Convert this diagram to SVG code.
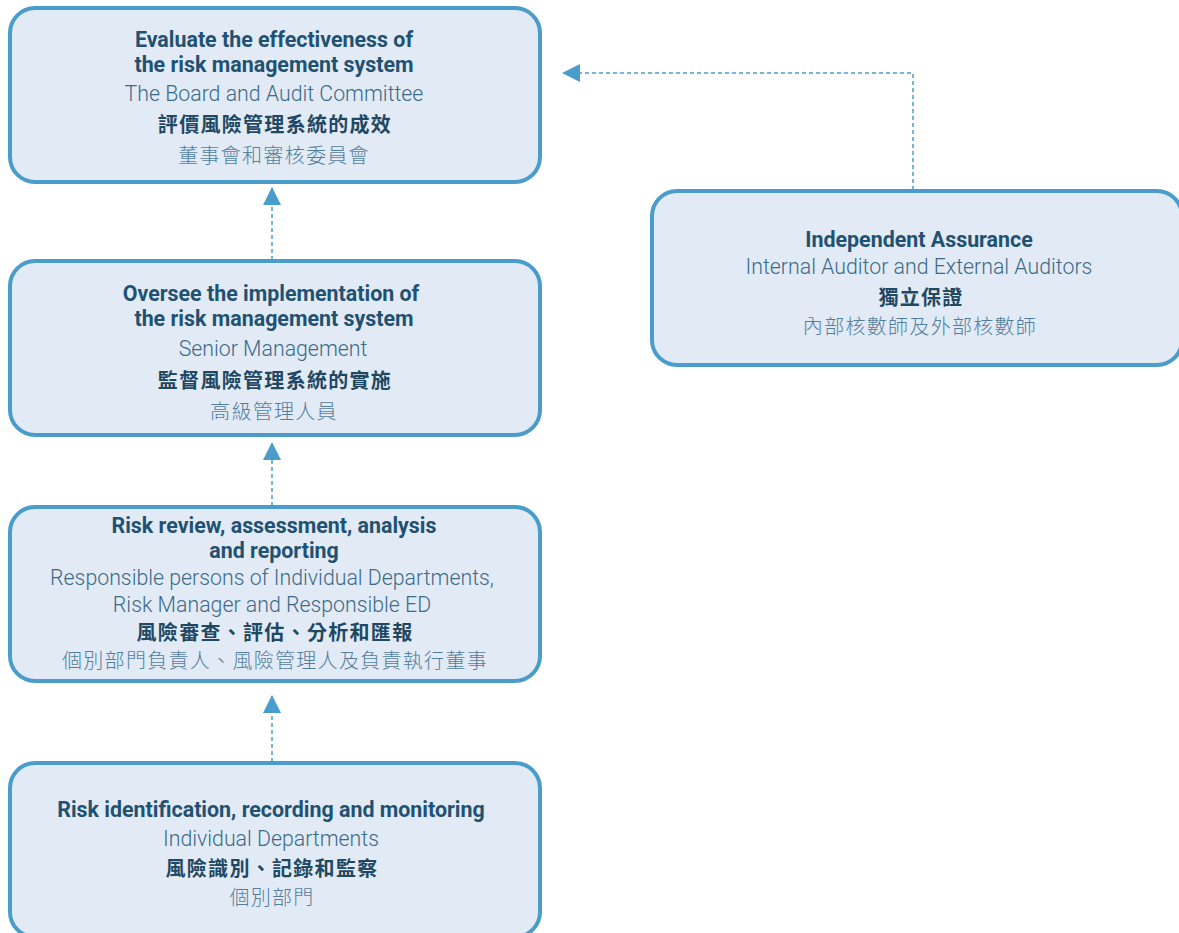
<svg xmlns="http://www.w3.org/2000/svg" width="1179" height="933" viewBox="0 0 1179 933">
<style>
.box{fill:#e2eaf5;stroke:#4a9ccb;stroke-width:4}
.t{font-family:Roboto,"Liberation Sans",sans-serif;font-size:21.4px;font-weight:700;fill:#1f5272;text-anchor:middle}
.s{font-family:Roboto,"Liberation Sans",sans-serif;font-size:21.3px;font-weight:300;fill:#3b6a8a;text-anchor:middle}
.ct{font-family:"Noto Sans CJK TC","Noto Sans CJK SC",sans-serif;font-size:20px;font-weight:700;fill:#1f4862;text-anchor:middle;letter-spacing:1.3px}
.cs{font-family:"Noto Sans CJK TC","Noto Sans CJK SC",sans-serif;font-size:20px;font-weight:300;fill:#527e9d;text-anchor:middle;letter-spacing:1.3px}
.con{fill:none;stroke:#4a9ccb;stroke-width:1.5;stroke-dasharray:4 3}
</style>
<defs>
<marker id="ah" markerUnits="userSpaceOnUse" markerWidth="18" markerHeight="18" refX="17" refY="9" orient="auto" viewBox="0 0 18 18">
<path d="M0,0 L18,9 L0,18 Z" fill="#4a9ccb"/>
</marker>
</defs>
<g id="connectors">
<path class="con" d="M272,260 V188" marker-end="url(#ah)"/>
<path class="con" d="M272,506 V443" marker-end="url(#ah)"/>
<path class="con" d="M272,762 V696" marker-end="url(#ah)"/>
<path class="con" d="M913,190 V73 H563" marker-end="url(#ah)"/>
</g>
<g id="node-evaluate">
<rect class="box" x="10" y="8" width="530" height="174" rx="25"/>
<text class="t" x="274" y="47">Evaluate the effectiveness of</text>
<text class="t" x="274" y="72">the risk management system</text>
<text class="s" x="274" y="101">The Board and Audit Committee</text>
<text class="ct" x="275" y="132">評價風險管理系統的成效</text>
<text class="cs" x="274" y="163">董事會和審核委員會</text>
</g>
<g id="node-oversee">
<rect class="box" x="10" y="261" width="530" height="174" rx="25"/>
<text class="t" x="271" y="301">Oversee the implementation of</text>
<text class="t" x="274" y="326">the risk management system</text>
<text class="s" x="273" y="356">Senior Management</text>
<text class="ct" x="275" y="388">監督風險管理系統的實施</text>
<text class="cs" x="274" y="419">高級管理人員</text>
</g>
<g id="node-review">
<rect class="box" x="10" y="507" width="530" height="174" rx="25"/>
<text class="t" x="274" y="533">Risk review, assessment, analysis</text>
<text class="t" x="274" y="558">and reporting</text>
<text class="s" x="272" y="585">Responsible persons of Individual Departments,</text>
<text class="s" x="272" y="612">Risk Manager and Responsible ED</text>
<text class="ct" x="275" y="640">風險審查、評估、分析和匯報</text>
<text class="cs" x="275" y="668">個別部門負責人、風險管理人及負責執行董事</text>
</g>
<g id="node-identify">
<rect class="box" x="10" y="763" width="530" height="174" rx="25"/>
<text class="t" x="271" y="817">Risk identification, recording and monitoring</text>
<text class="s" x="271" y="846">Individual Departments</text>
<text class="ct" x="272" y="876">風險識別、記錄和監察</text>
<text class="cs" x="272" y="905">個別部門</text>
</g>
<g id="node-assurance">
<rect class="box" x="652" y="191" width="530" height="174" rx="25"/>
<text class="t" x="919" y="247">Independent Assurance</text>
<text class="s" x="919" y="274">Internal Auditor and External Auditors</text>
<text class="ct" x="921" y="305">獨立保證</text>
<text class="cs" x="920" y="334">內部核數師及外部核數師</text>
</g>
</svg>
